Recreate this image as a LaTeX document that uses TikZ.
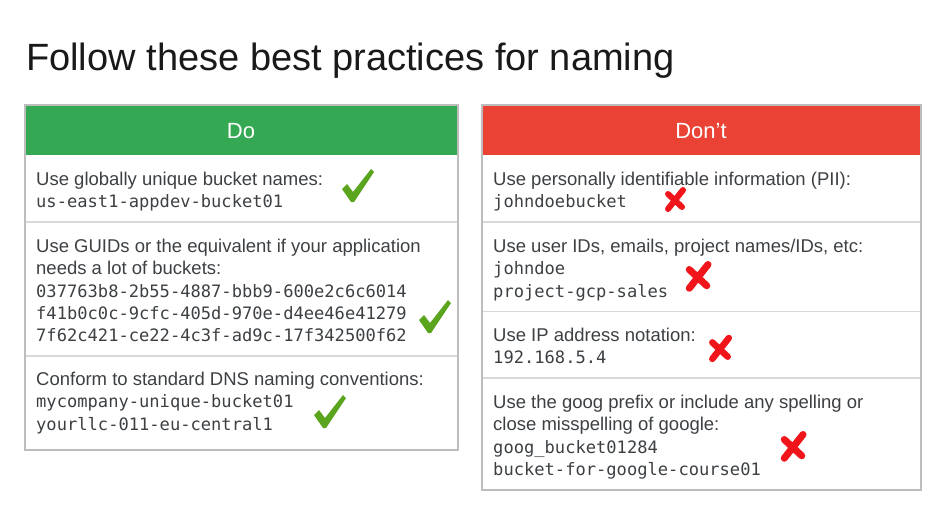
\documentclass[tikz,border=0pt]{standalone}
\usepackage{fontspec}
\setmainfont{Liberation Sans}
\newfontfamily\codefont{DejaVu Sans Mono}
\definecolor{dogreen}{HTML}{34A853}
\definecolor{dontred}{HTML}{EA4335}
\definecolor{tickgreen}{HTML}{5BA41E}
\definecolor{crossred}{HTML}{F0141B}
\definecolor{rulegray}{HTML}{D8D8D8}
\definecolor{framegray}{HTML}{BDBDBD}
\definecolor{bodytext}{HTML}{3C4043}
\newcommand\code[1]{{\codefont\fontsize{17.1}{22.3}\selectfont #1}}
\tikzset{
  celltext/.style={anchor=north west, inner sep=0pt, align=left, text=bodytext, font=\fontsize{18.5}{22.3}\selectfont},
  headtext/.style={anchor=base, inner sep=0pt, text=white, font=\fontsize{22}{26}\selectfont},
  rule/.style={draw=rulegray, line width=1.2pt},
  frame/.style={draw=framegray, line width=1.2pt},
  donemark/.pic={\fill[tickgreen] (0,20) -- (5,15) -- (11,23) -- (29,0) -- (32,3) -- (12,33) -- (9,33) -- cycle;},
  nomark/.pic={\draw[crossred, line cap=round] (8,-10) -- (-7,9) (-7,-6) -- (7,7);}
}
\begin{document}
\begin{tikzpicture}[x=1pt, y=-1pt]
        \useasboundingbox (0,0) rectangle (952,512);
        \node[anchor=base west, inner sep=0pt, text=black!90, font=\fontsize{38}{44}\selectfont] (title) at (26,70.5) {Follow these best practices for naming};
        \fill[dogreen] (25,105) rectangle (458,155);
        \draw[rule] (25,222) -- (458,222) (25,356) -- (458,356);
        \draw[frame] (25,105) rectangle (458,450);
        \node[headtext] (dohead) at (241,138.3) {Do};
        \node[celltext] (do1) at (36,172) {Use globally unique bucket names:\\ \code{us-east1-appdev-bucket01}};
        \node[celltext] (do2) at (36,239) {Use GUIDs or the equivalent if your application\\ needs a lot of buckets:\\ \code{037763b8-2b55-4887-bbb9-600e2c6c6014}\\ \code{f41b0c0c-9cfc-405d-970e-d4ee46e41279}\\ \code{7f62c421-ce22-4c3f-ad9c-17f342500f62}};
        \node[celltext] (do3) at (36,372) {Conform to standard DNS naming conventions:\\ \code{mycompany-unique-bucket01}\\ \code{yourllc-011-eu-central1}};
        \pic at (342,169) {donemark};
        \pic at (419,300) {donemark};
        \pic at (314,395) {donemark};
        \fill[dontred] (482,105) rectangle (921,155);
        \draw[rule] (482,222) -- (921,222) (482,311.7) -- (921,311.7) (482,378) -- (921,378);
        \draw[frame] (482,105) rectangle (921,490);
        \node[headtext] (donthead) at (701,138.3) {Don’t};
        \node[celltext] (dont1) at (493,172) {Use personally identifiable information (PII):\\ \code{johndoebucket}};
        \node[celltext] (dont2) at (493,239) {Use user IDs, emails, project names/IDs, etc:\\ \code{johndoe}\\ \code{project-gcp-sales}};
        \node[celltext] (dont3) at (493,328) {Use IP address notation:\\ \code{192.168.5.4}};
        \node[celltext] (dont4) at (493,395) {Use the goog prefix or include any spelling or\\ close misspelling of google:\\ \code{goog\_bucket01284}\\ \code{bucket-for-google-course01}};
        \pic[line width=6pt] at (675,200) {nomark};
        \pic[scale=1.25, line width=7pt] at (698,277) {nomark};
        \pic[scale=1.1, line width=6.5pt] at (720,349) {nomark};
        \pic[scale=1.25, line width=7pt] at (793,447) {nomark};
\end{tikzpicture}
\end{document}
